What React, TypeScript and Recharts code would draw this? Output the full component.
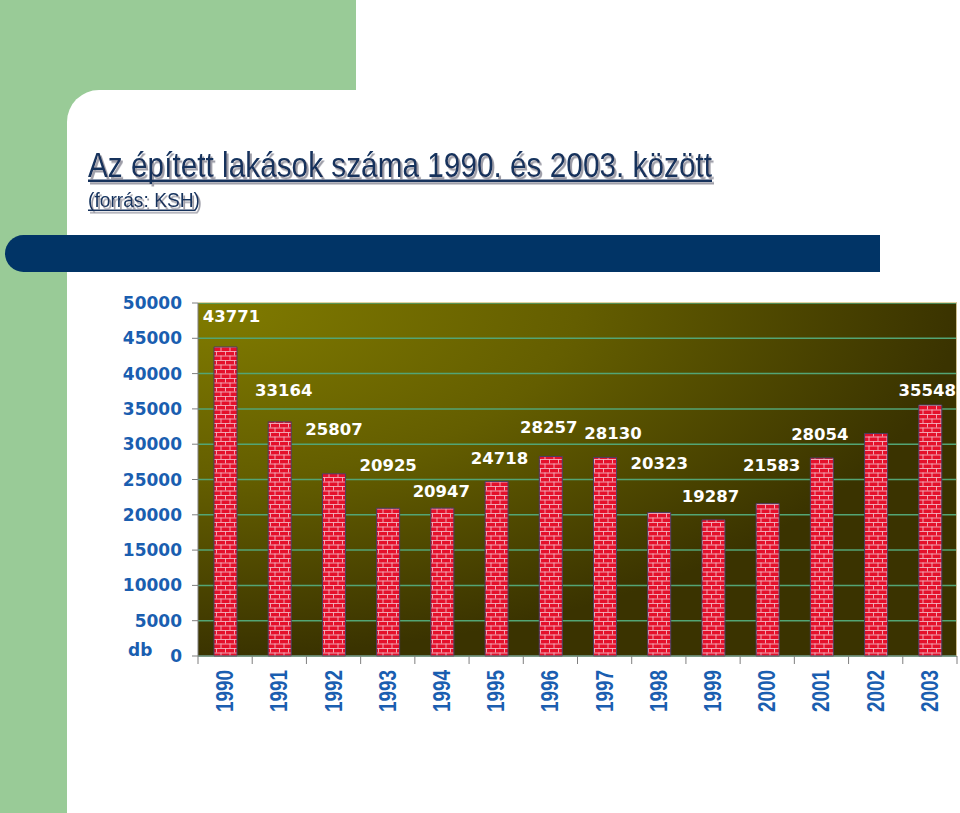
import React from 'react';
import { BarChart, Bar, XAxis, YAxis, CartesianGrid, LabelList } from 'recharts';

// ---- data ----
const years = ['1990', '1991', '1992', '1993', '1994', '1995', '1996', '1997', '1998', '1999', '2000', '2001', '2002', '2003'];
const dwellings = [43771, 33164, 25807, 20925, 20947, 24718, 28257, 28130, 20323, 19287, 21583, 28054, 31511, 35548];
const labelShown = [true, true, true, true, true, true, true, true, true, true, true, true, false, true];
const yTicks = [0, 5000, 10000, 15000, 20000, 25000, 30000, 35000, 40000, 45000, 50000];

const titleText = 'Az épített lakások száma 1990. és 2003. között';
const subtitleText = '(forrás: KSH)';
const unitText = 'db';

// ---- layout / style ----
const W = 960;
const H = 813;
const MARGIN = { top: 303, right: 3, bottom: 87, left: 98 };
const YAXIS_W = 100;
const XAXIS_H = 70;
const PLOT_LEFT = MARGIN.left + YAXIS_W;
const PLOT_TOP = MARGIN.top;
const PLOT_W = W - PLOT_LEFT - MARGIN.right;
const PLOT_H = H - MARGIN.top - MARGIN.bottom - XAXIS_H;
const BAND = PLOT_W / years.length;

// per-label nudges (px) relative to bar top centre, as placed in the original
const LABEL_NUDGE: [number, number][] = [
  [6, -30], [4, -31], [0, -44], [0, -43], [-1, -17], [3, -23], [-2, -29],
  [8, -24], [0, -49], [-3, -23], [4, -38], [-2, -23], [0, -20], [-3, -15],
];

const BLUE = '#1A5EB0';
const AXIS_GREY = '#7F7F7F';
const NARROW = "'Liberation Sans Narrow', 'Arial Narrow', 'Liberation Sans', Arial, sans-serif";

const data = years.map((y, i) => ({ year: y, value: dwellings[i] }));

const renderLabel = (props: any) => {
  const { x, y, width, value } = props;
  let index = props.index;
  if (index === undefined || index === null) index = dwellings.indexOf(Number(value));
  if (!labelShown[index]) return null;
  const [dx, dy] = LABEL_NUDGE[index] || [0, -20];
  return (
    <text
      x={Number(x) + Number(width) / 2 + dx}
      y={Number(y) + dy}
      textAnchor="middle"
      dominantBaseline="central"
      fill="#FFFFFF"
      fontSize={16.5}
      fontWeight="bold"
      fontFamily="'DejaVu Sans', Verdana, sans-serif"
    >
      {value}
    </text>
  );
};

const XTick = (props: any) => {
  const { x, y, payload, index } = props;
  const half = BAND / 2;
  const tx = x + 8;
  const ty = y + 14;
  return (
    <g>
      <line x1={x - half} x2={x - half} y1={y} y2={y + 8} stroke={AXIS_GREY} strokeWidth={1} />
      {index === years.length - 1 && (
        <line x1={x + half} x2={x + half} y1={y} y2={y + 8} stroke={AXIS_GREY} strokeWidth={1} />
      )}
      <text
        x={tx}
        y={ty}
        transform={`rotate(-90, ${tx}, ${ty})`}
        textAnchor="end"
        fill={BLUE}
        fontSize={23}
        fontWeight="bold"
        fontFamily="'Liberation Sans', Arial, sans-serif"
        textLength={42}
        lengthAdjust="spacingAndGlyphs"
      >
        {payload.value}
      </text>
    </g>
  );
};

const Decor = () => (
  <svg width={W} height={H} style={{ position: 'absolute', left: 0, top: 0 }}>
    <defs>
      <filter id="titleShadow" x="-5%" y="-30%" width="110%" height="160%">
        <feDropShadow dx="2" dy="2.5" stdDeviation="0.6" floodColor="#8E8E9A" floodOpacity="0.85" />
      </filter>
    </defs>
    <rect x={0} y={0} width={356} height={90} fill="#99CB97" />
    <rect x={0} y={0} width={67} height={H} fill="#99CB97" />
    <rect x={0} y={0} width={140} height={140} fill="#99CB97" />
    <path d={`M67 ${H} V122 A32 32 0 0 1 99 90 H${W} V${H} Z`} fill="#FFFFFF" />
    {/* blue band */}
    <path d="M23.5 235 H880 V272 H23.5 A18.5 18.5 0 0 1 23.5 235 Z" fill="#013466" />
    <g fill="#13305C" filter="url(#titleShadow)">
      <text x={88} y={177} fontSize={35} fontFamily={NARROW} textLength={624} lengthAdjust="spacingAndGlyphs">
        {titleText}
      </text>
      <rect x={88} y={179.5} width={624} height={2.5} />
      <text x={88} y={207} fontSize={20.5} fontFamily={NARROW} textLength={112} lengthAdjust="spacingAndGlyphs">
        {subtitleText}
      </text>
      <rect x={88} y={209.5} width={107} height={1.5} />
    </g>
    <text
      x={128}
      y={656}
      fill={BLUE}
      fontSize={17}
      fontWeight="bold"
      fontFamily="'DejaVu Sans', Verdana, sans-serif"
    >
      {unitText}
    </text>
  </svg>
);

export default function App() {
  return (
    <div style={{ position: 'absolute', left: 0, top: 0, width: W, height: H, background: '#FFFFFF', overflow: 'hidden' }}>
      <Decor />
      <div style={{ position: 'absolute', left: 0, top: 0 }}>
        <BarChart width={W} height={H} data={data} margin={MARGIN}>
          <defs>
            <radialGradient id="plotBg" cx="0" cy="0" r="1" fx="0" fy="0">
              <stop offset="0" stopColor="#817C00" />
              <stop offset="0.5" stopColor="#645E00" />
              <stop offset="1" stopColor="#3A3300" />
            </radialGradient>
            <pattern id="bricks" patternUnits="userSpaceOnUse" width="9" height="9">
              <rect width="9" height="9" fill="#E4102B" />
              <path d="M0 0.5 H9 M0 5 H9 M0.5 0 V4.5 M5 4.5 V9" stroke="#F3B2C0" strokeWidth="0.9" />
            </pattern>
          </defs>
          <CartesianGrid vertical={false} stroke="#53A575" strokeWidth={1.5} fill="url(#plotBg)" fillOpacity={1} />
          <YAxis
            width={YAXIS_W}
            domain={[0, 50000]}
            ticks={yTicks}
            interval={0}
            tickSize={6}
            tickMargin={10}
            axisLine={{ stroke: AXIS_GREY }}
            tickLine={{ stroke: AXIS_GREY }}
            tick={{ fill: BLUE, fontSize: 17, fontWeight: 'bold', fontFamily: "'DejaVu Sans', Verdana, sans-serif" }}
          />
          <XAxis
            dataKey="year"
            height={XAXIS_H}
            interval={0}
            tickSize={0}
            tickMargin={0}
            tickLine={false}
            axisLine={{ stroke: AXIS_GREY }}
            tick={<XTick />}
          />
          <Bar dataKey="value" fill="url(#bricks)" stroke="#4B3D63" strokeWidth={1} barSize={23} isAnimationActive={false}>
            <LabelList dataKey="value" content={renderLabel} />
          </Bar>
        </BarChart>
      </div>
      <div
        style={{
          position: 'absolute',
          left: PLOT_LEFT,
          top: PLOT_TOP - 1,
          width: PLOT_W - 1,
          height: PLOT_H,
          borderTop: '1.5px solid #E0D3A2',
          borderRight: '1.5px solid #CDBF92',
          pointerEvents: 'none',
        }}
      />
    </div>
  );
}
